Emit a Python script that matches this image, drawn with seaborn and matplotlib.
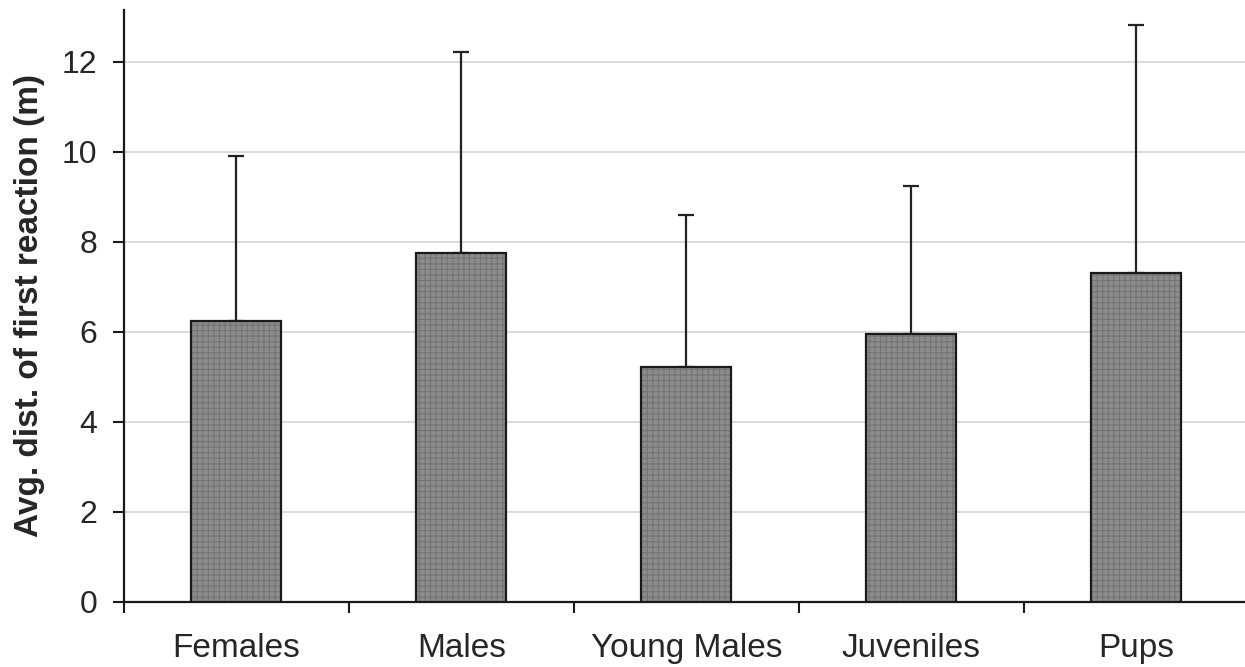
import numpy as np
import pandas as pd
import seaborn as sns
import matplotlib.pyplot as plt
from matplotlib.ticker import FixedLocator

groups = ['Females', 'Males', 'Young Males', 'Juveniles', 'Pups']
mean_dist = [6.24, 7.76, 5.22, 5.96, 7.31]
upper_err = [9.91, 12.22, 8.60, 9.24, 12.82]

df = pd.DataFrame({'group': groups, 'dist': mean_dist, 'upper': upper_err})

sns.set_style('white')
plt.rcParams['font.family'] = ['Liberation Sans', 'DejaVu Sans']
plt.rcParams['hatch.linewidth'] = 0.8

fig = plt.figure(figsize=(12.45, 6.67), dpi=100)
ax = fig.add_axes([0.0996, 0.0975, 0.9034, 0.8875])

# error bars (upper only) behind the bars
err = np.array(upper_err) - np.array(mean_dist)
ax.errorbar(np.arange(len(groups)), mean_dist,
            yerr=[np.zeros(len(groups)), err],
            fmt='none', ecolor='#222222', elinewidth=1.6,
            capsize=6, capthick=1.6, zorder=2)

# textured gray fill
sns.barplot(data=df, x='group', y='dist', width=0.4, color='#8c8c8c',
            saturation=1, edgecolor='#747474', linewidth=0, hatch='+++',
            ax=ax, zorder=3)
# black outlines
sns.barplot(data=df, x='group', y='dist', width=0.4, fill=False,
            edgecolor='#1a1a1a', linewidth=1.6, ax=ax, zorder=4)

ax.set_xlim(-0.5, len(groups) - 0.5)
ax.set_ylim(0, 13.15)
ax.set_yticks(np.arange(0, 13, 2))
ax.yaxis.grid(True, color='#d4d4d4', linewidth=1.2)
ax.set_axisbelow(True)

ax.xaxis.set_minor_locator(FixedLocator(np.arange(-0.5, len(groups), 1)))
ax.tick_params(axis='x', which='major', bottom=True, length=0,
               labelsize=24, pad=22)
ax.tick_params(axis='x', which='minor', bottom=True, length=8, width=1.5,
               color='#1a1a1a', direction='out')
ax.tick_params(axis='y', left=True, length=8, width=1.5, color='#1a1a1a',
               direction='out', labelsize=23, pad=11)

ax.set_xlabel('')
ax.set_ylabel('Avg. dist. of first reaction (m)', fontsize=24,
              fontweight='bold', labelpad=12)

for side in ['top', 'right']:
    ax.spines[side].set_visible(False)
for side in ['left', 'bottom']:
    ax.spines[side].set_color('#1a1a1a')
    ax.spines[side].set_linewidth(1.6)

fig.savefig('out.png', dpi=100)
